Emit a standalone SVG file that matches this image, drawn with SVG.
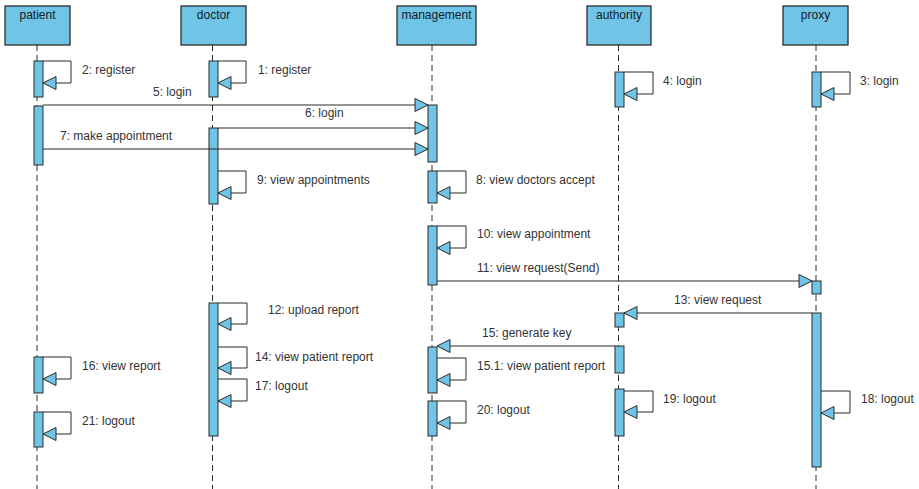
<svg xmlns="http://www.w3.org/2000/svg" width="919" height="489" viewBox="0 0 919 489">
<style>
.hdr{fill:#70c4e5;stroke:#2b2b2b;stroke-width:1.3}
.bar{fill:#70c4e5;stroke:#2b2b2b;stroke-width:1}
.life{stroke:#2b2b2b;stroke-width:1;stroke-dasharray:6,4;fill:none}
.msg{stroke:#2b2b2b;stroke-width:1;fill:none;marker-end:url(#ah)}
.name{font-family:"Liberation Sans",Arial,sans-serif;font-size:12px;fill:#10202a;text-anchor:middle}
.lbl{font-family:"Liberation Sans",Arial,sans-serif;font-size:12px;fill:#333}
</style>
<defs>
<marker id="ah" markerUnits="userSpaceOnUse" viewBox="-15 -8 16 16" refX="0" refY="0" markerWidth="16" markerHeight="16" orient="auto">
<path d="M0,0 L-13,-6.5 L-13,6.5 Z" fill="#70c4e5" stroke="#2b2b2b" stroke-width="1"/>
</marker>
</defs>
<rect width="919" height="489" fill="#fff"/>
<g id="patient">
<line class="life" x1="37" y1="45" x2="37" y2="489"/>
<rect class="hdr" x="5" y="6" width="65" height="39"/>
<text class="name" x="37.5" y="19">patient</text>
<rect class="bar" x="34" y="61" width="9" height="36"/>
<rect class="bar" x="34" y="106" width="9" height="59"/>
<rect class="bar" x="34" y="357" width="9" height="36"/>
<rect class="bar" x="34" y="412" width="9" height="35"/>
</g>
<g id="doctor">
<line class="life" x1="212.5" y1="45" x2="212.5" y2="489"/>
<rect class="hdr" x="181" y="6" width="65" height="39"/>
<text class="name" x="213.5" y="19">doctor</text>
<rect class="bar" x="209" y="61" width="9" height="36"/>
<rect class="bar" x="209" y="128" width="9" height="76"/>
<rect class="bar" x="209" y="303" width="9" height="133"/>
</g>
<g id="management">
<line class="life" x1="432" y1="45" x2="432" y2="489"/>
<rect class="hdr" x="397" y="6" width="79" height="39"/>
<text class="name" x="436.5" y="19">management</text>
<rect class="bar" x="428" y="105" width="9" height="57"/>
<rect class="bar" x="428" y="171" width="9" height="32"/>
<rect class="bar" x="428" y="226" width="9" height="59"/>
<rect class="bar" x="428" y="347" width="9" height="46"/>
<rect class="bar" x="428" y="401" width="9" height="35"/>
</g>
<g id="authority">
<line class="life" x1="618.5" y1="45" x2="618.5" y2="489"/>
<rect class="hdr" x="587" y="6" width="64" height="39"/>
<text class="name" x="619" y="19">authority</text>
<rect class="bar" x="615" y="72" width="9" height="35"/>
<rect class="bar" x="615" y="313" width="9" height="14"/>
<rect class="bar" x="615" y="346" width="9" height="27"/>
<rect class="bar" x="615" y="389" width="9" height="47"/>
</g>
<g id="proxy">
<line class="life" x1="816" y1="45" x2="816" y2="489"/>
<rect class="hdr" x="783" y="6" width="65" height="39"/>
<text class="name" x="815.5" y="19">proxy</text>
<rect class="bar" x="812" y="72" width="9" height="35"/>
<rect class="bar" x="812" y="281" width="9" height="13"/>
<rect class="bar" x="812" y="313" width="9" height="154"/>
</g>
<g id="connectors">
<path class="msg" d="M43,61 H71 V83 H43"/>
<text class="lbl" x="82" y="74">2: register</text>
<path class="msg" d="M218,61 H246 V83 H218"/>
<text class="lbl" x="258" y="74">1: register</text>
<path class="msg" d="M624,72 H653 V94 H624"/>
<text class="lbl" x="663" y="85">4: login</text>
<path class="msg" d="M821,72 H850 V94 H821"/>
<text class="lbl" x="860" y="85">3: login</text>
<path class="msg" d="M43,105 H428"/>
<text class="lbl" x="153" y="96">5: login</text>
<path class="msg" d="M218,128 H428"/>
<text class="lbl" x="305" y="117">6: login</text>
<path class="msg" d="M43,149 H428"/>
<text class="lbl" x="60" y="140">7: make appointment</text>
<path class="msg" d="M218,171 H246 V193 H218"/>
<text class="lbl" x="257" y="184">9: view appointments</text>
<path class="msg" d="M437,171 H466 V193 H437"/>
<text class="lbl" x="476" y="184">8: view doctors accept</text>
<path class="msg" d="M437,226 H466 V248 H437"/>
<text class="lbl" x="477" y="238">10: view appointment</text>
<path class="msg" d="M437,281 H812"/>
<text class="lbl" x="477" y="272">11: view request(Send)</text>
<path class="msg" d="M812,313 H624"/>
<text class="lbl" x="674" y="304">13: view request</text>
<path class="msg" d="M218,303 H247 V324 H218"/>
<text class="lbl" x="268" y="314">12: upload report</text>
<path class="msg" d="M615,346 H437"/>
<text class="lbl" x="482" y="337">15: generate key</text>
<path class="msg" d="M437,358 H466 V380 H437"/>
<text class="lbl" x="477" y="370">15.1: view patient report</text>
<path class="msg" d="M218,347 H247 V368 H218"/>
<text class="lbl" x="255" y="361">14: view patient report</text>
<path class="msg" d="M43,357 H71 V379 H43"/>
<text class="lbl" x="82" y="370">16: view report</text>
<path class="msg" d="M218,379 H247 V401 H218"/>
<text class="lbl" x="255" y="390">17: logout</text>
<path class="msg" d="M821,391 H850 V413 H821"/>
<text class="lbl" x="861" y="403">18: logout</text>
<path class="msg" d="M624,391 H653 V412 H624"/>
<text class="lbl" x="663" y="403">19: logout</text>
<path class="msg" d="M437,401 H466 V423 H437"/>
<text class="lbl" x="477" y="414">20: logout</text>
<path class="msg" d="M43,412 H71 V434 H43"/>
<text class="lbl" x="82" y="425">21: logout</text>
</g>
</svg>
